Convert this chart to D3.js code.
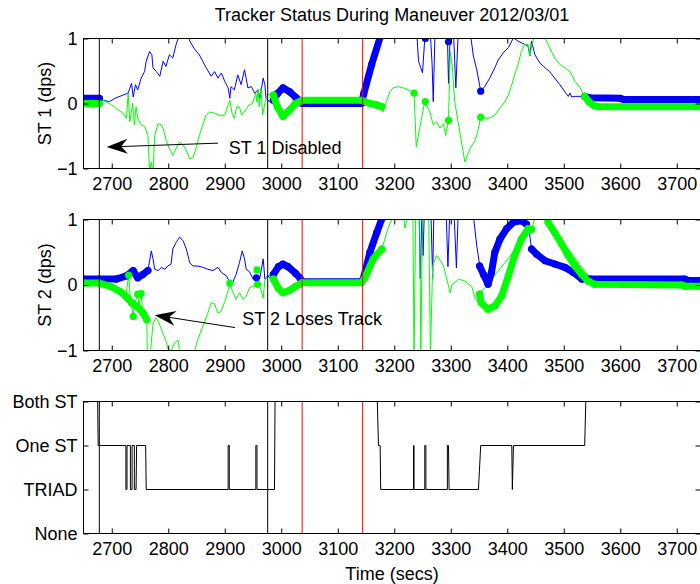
<!DOCTYPE html>
<html>
<head>
<meta charset="utf-8">
<script src="https://cdn.jsdelivr.net/npm/d3@7"></script>
<style>
  body { margin: 0; background: #fff; }
  text { font-family: "Liberation Sans", Arial, sans-serif; fill: #000; }
</style>
</head>
<body>
<svg id="chart" width="700" height="584"></svg>
<script>
// ---- data (time in secs, rates in dps) ----
const timeTicks = [2700, 2800, 2900, 3000, 3100, 3200, 3300, 3400, 3500, 3600, 3700];
const rateTicks = [-1, 0, 1];
const modeLabels = ["None", "TRIAD", "One ST", "Both ST"];

const blackMarks = [2678, 2976];
const redMarks = [3037, 3144];

// ST 1 thin traces
const st1Blue = [[2650,0.08],[2684,0.05],[2696,0.03],[2707,0.085],[2720,0.13],[2729,0.16],[2735,0.31],[2738,0.1],[2742,0.29],[2746,0.21],[2752,0.39],[2758,0.49],[2761,0.65],[2767,0.8],[2771,0.75],[2773,0.55],[2779,0.49],[2785,0.42],[2791,0.65],[2796,0.57],[2802,0.75],[2808,0.7],[2814,0.91],[2820,1.06],[2835,1.06],[2838,0.96],[2847,0.83],[2855,0.75],[2861,0.65],[2867,0.55],[2876,0.42],[2882,0.49],[2888,0.39],[2894,0.47],[2900,0.34],[2906,0.24],[2909,0.08],[2911,0.26],[2917,0.21],[2923,0.44],[2929,0.29],[2935,0.52],[2941,0.24],[2947,0.26],[2953,0.16],[2959,0.21],[2962,0.08],[2968,0.39],[2971,0.29],[2973,0.08],[2979,0.03],[2986,0.05],[3003,0.24],[3037,0],[3144,0],[3175,1.06],[3240,1.06],[3243,0.65],[3250,0.47],[3254,1.0],[3264,1.06],[3267,0.6],[3269,0.03],[3272,1.06],[3294,1.06],[3296,0.31],[3299,1.06],[3305,1.06],[3309,0.24],[3313,1.06],[3335,1.06],[3340,0.73],[3346,0.52],[3353,0.19],[3360,0.26],[3369,0.39],[3378,0.55],[3384,0.67],[3393,0.78],[3402,0.86],[3411,1.01],[3419,0.96],[3431,0.91],[3437,0.88],[3440,0.73],[3443,0.96],[3449,0.75],[3458,0.62],[3467,0.55],[3475,0.49],[3484,0.39],[3493,0.29],[3502,0.18],[3508,0.11],[3511,0.16],[3514,0.1],[3520,0.11],[3537,0.11],[3742,0.06]];
const st1Green = [[2650,0],[2684,0.05],[2696,0],[2707,-0.07],[2720,-0.15],[2726,-0.23],[2729,0.16],[2732,-0.28],[2737,0],[2740,-0.33],[2743,-0.05],[2746,-0.23],[2752,-0.33],[2758,-0.35],[2764,-0.49],[2767,-1.06],[2770,-0.9],[2773,-1.06],[2776,-0.49],[2782,-0.31],[2788,-0.33],[2791,-0.38],[2797,-0.59],[2802,-0.69],[2808,-0.8],[2814,-0.69],[2820,-0.59],[2826,-0.64],[2832,-0.72],[2838,-0.85],[2844,-0.83],[2850,-0.67],[2855,-0.49],[2861,-0.33],[2867,-0.18],[2873,-0.13],[2882,-0.15],[2890,-0.18],[2900,-0.18],[2906,-0.02],[2909,0.05],[2913,-0.15],[2917,-0.23],[2921,-0.05],[2926,-0.05],[2930,-0.18],[2937,-0.1],[2943,-0.02],[2949,0],[2955,0.16],[2957,0.02],[2959,0.22],[2961,-0.05],[2964,0.24],[2967,-0.18],[2972,0.05],[2976,0.13],[2982,0.16],[2986,0.13],[3003,-0.2],[3037,0.05],[3144,0.05],[3178,-0.05],[3180,-0.13],[3186,0.03],[3192,0.18],[3198,0.24],[3207,0.26],[3216,0.24],[3225,0.21],[3235,0.16],[3239,-0.67],[3245,-0.38],[3254,0.03],[3263,-0.13],[3269,-0.33],[3275,-0.28],[3281,-0.38],[3287,-0.31],[3291,-0.49],[3296,-0.26],[3299,0.8],[3303,0.55],[3307,0.03],[3316,-0.44],[3325,-0.9],[3334,-0.69],[3343,-0.57],[3347,-0.46],[3353,-0.21],[3366,-0.23],[3378,-0.18],[3387,-0.07],[3396,0.03],[3402,0.13],[3408,0.29],[3413,0.44],[3419,0.6],[3425,0.8],[3431,0.91],[3437,0.91],[3440,0.73],[3443,0.88],[3449,1.06],[3462,1.06],[3467,1.0],[3475,0.86],[3484,0.7],[3493,0.6],[3502,0.55],[3511,0.49],[3520,0.34],[3529,0.24],[3537,0.11],[3560,-0.05],[3742,-0.05]];

// ST 1 tracked samples (fat markers); one-point runs are lone samples
const st1BlueDots = [
  [[2650,0.08],[2678,0.08]],
  [[2986,0.05],[2993,0.15],[3003,0.24],[3015,0.18],[3025,0.1],[3033,0.04],[3037,0],[3142,0],[3146,0.15],[3160,0.6],[3175,1.02]],
  [[3255,1.0]], [[3296,0.95]], [[3353,0.19]],
  [[3537,0.11],[3545,0.09],[3600,0.08],[3606,0.06],[3742,0.06]]
];
const st1GreenDots = [
  [[2650,0],[2678,0]],
  [[2986,0.13],[2993,-0.05],[3003,-0.2],[3015,-0.1],[3025,0],[3033,0.03],[3037,0.05],[3142,0.05],[3157,0],[3169,-0.02],[3178,-0.05]],
  [[3235,0.16]], [[3255,0.03]], [[3296,-0.26]], [[3353,-0.21]],
  [[3537,0.11],[3545,0.02],[3553,-0.03],[3560,-0.05],[3742,-0.05]]
];

// ST 2 thin traces
const st2Blue = [[2650,0.09],[2708,0.09],[2726,0.14],[2738,0.22],[2746,0.11],[2755,0.16],[2764,0.22],[2770,0.52],[2773,0.4],[2776,0.24],[2782,0.22],[2788,0.27],[2794,0.24],[2799,0.29],[2805,0.32],[2808,0.55],[2814,0.65],[2820,0.73],[2826,0.68],[2832,0.55],[2838,0.34],[2844,0.29],[2852,0.29],[2861,0.27],[2870,0.24],[2879,0.22],[2888,0.27],[2894,0.19],[2903,0.14],[2909,0.04],[2914,0.04],[2920,0.16],[2926,0.34],[2931,0.52],[2935,0.4],[2938,0.24],[2944,0.2],[2950,0.09],[2956,0.11],[2962,0.1],[2968,0.4],[2971,0.09],[2976,0.14],[2982,0.09],[2986,0.16],[3003,0.32],[3033,0.11],[3037,0.05],[3144,0.05],[3178,1.06],[3244,1.06],[3246,0.1],[3249,1.06],[3251,0.45],[3253,1.06],[3265,1.06],[3268,0.1],[3270,1.06],[3292,1.06],[3295,0.28],[3298,1.06],[3306,1.06],[3310,0.26],[3313,1.06],[3340,1.06],[3346,0.6],[3351,0.31],[3358,0.16],[3366,0.01],[3378,0.5],[3411,0.96],[3434,0.93],[3440,0.75],[3443,0.55],[3467,0.37],[3532,0.09],[3742,0.07]];
const st2Green = [[2650,0.03],[2678,0.03],[2700,-0.03],[2715,-0.1],[2725,-0.17],[2730,0.15],[2733,-0.2],[2738,-0.48],[2740,-0.3],[2746,-0.14],[2748,-0.33],[2752,-0.13],[2755,-0.42],[2762,-0.53],[2763,-1.06],[2768,-1.06],[2773,-0.6],[2778,-0.5],[2782,-0.55],[2788,-0.68],[2797,-0.88],[2802,-1.06],[2811,-0.89],[2817,-0.84],[2820,-1.0],[2826,-1.06],[2845,-1.06],[2852,-0.84],[2861,-0.63],[2870,-0.43],[2876,-0.27],[2882,-0.29],[2888,-0.43],[2894,-0.4],[2900,-0.25],[2906,-0.09],[2909,0.03],[2914,-0.1],[2920,-0.22],[2926,-0.12],[2933,-0.22],[2938,-0.17],[2944,-0.04],[2950,-0.02],[2956,0.01],[2962,-0.02],[2968,-0.2],[2971,0.07],[2976,0.14],[2982,0.15],[2986,0.09],[3003,-0.12],[3033,0.01],[3037,0.035],[3142,0.035],[3178,0.55],[3189,0.86],[3198,1.06],[3216,1.06],[3219,0.87],[3224,1.06],[3233,1.06],[3235,-1.06],[3238,1.06],[3245,1.06],[3247,-1.06],[3250,1.06],[3261,1.06],[3264,-1.06],[3268,0.3],[3275,0.45],[3287,0.3],[3299,-0.12],[3302,0.0],[3314,0.09],[3325,0.06],[3337,-0.02],[3343,-0.2],[3349,-0.28],[3351,-0.14],[3443,0.85],[3450,1.06],[3468,1.06],[3472,0.96],[3555,0.01],[3742,-0.02]];

// ST 2 tracked samples
const st2BlueDots = [
  [[2650,0.09],[2678,0.09],[2708,0.09],[2726,0.14],[2738,0.22],[2746,0.11],[2755,0.16],[2764,0.22]],
  [[2956,0.11]],
  [[2986,0.16],[2995,0.28],[3003,0.32],[3012,0.28],[3025,0.18],[3033,0.11],[3037,0.05],[3142,0.05],[3145,0.09],[3157,0.5],[3169,0.8],[3178,1.01]],
  [[3351,0.29],[3358,0.16],[3366,0.01],[3372,0.19],[3378,0.5],[3387,0.7],[3399,0.86],[3411,0.96],[3425,0.98],[3434,0.93]],
  [[3443,0.55],[3452,0.47],[3467,0.37],[3484,0.32],[3502,0.27],[3517,0.19],[3532,0.09],[3546,0.09],[3714,0.09],[3720,0.07],[3742,0.07]]
];
const st2GreenDots = [
  [[2650,0.03],[2678,0.03],[2700,-0.03],[2715,-0.1],[2725,-0.17],[2735,-0.27],[2745,-0.33],[2755,-0.42],[2762,-0.53]],
  [[2730,0.15]], [[2738,-0.48]], [[2746,-0.14]], [[2752,-0.13]],
  [[2909,0.03]], [[2957,0.23]], [[2958,0.01]],
  [[2986,0.09],[2995,-0.05],[3003,-0.12],[3015,-0.08],[3025,-0.02],[3033,0.01],[3037,0.035],[3142,0.035],[3148,0.11],[3163,0.4],[3178,0.55]],
  [[3351,-0.14],[3354,-0.27],[3366,-0.37],[3378,-0.32],[3390,-0.17],[3402,0.14],[3413,0.45],[3425,0.7],[3437,0.86],[3443,0.85]],
  [[3472,0.96],[3484,0.8],[3496,0.63],[3508,0.45],[3520,0.29],[3532,0.16],[3543,0.06],[3555,0.01],[3709,0],[3715,-0.02],[3742,-0.02]]
];

// attitude source: 0 None, 1 TRIAD, 2 One ST, 3 Both ST
const modeSteps = [[2650,3],[2675,3],[2676,2],[2725,2],[2725,1],[2727,1],[2727,2],[2733,2],[2733,1],[2736,1],[2736,2],[2740,2],[2740,1],[2743,1],[2744,2],[2760,2],[2761,1],[2906,1],[2906,2],[2908,2],[2908,1],[2955,1],[2955,2],[2957,2],[2957,1],[2988,1],[2989,3],[3170,3],[3172,2],[3175,2],[3176,1],[3234,1],[3234,2],[3235,2],[3235,1],[3254,1],[3254,2],[3256,2],[3256,1],[3294,1],[3294,2],[3296,2],[3297,1],[3349,1],[3353,2],[3408,2],[3409,1],[3411,2],[3537,2],[3539,3],[3742,3]];

// ---- drawing ----
const svg = d3.select("#chart");
const x = d3.scaleLinear().domain([2650, 3742]).range([83.5, 700.5]);
const y1 = d3.scaleLinear().domain([-1, 1]).range([168.5, 38.5]);
const y2 = d3.scaleLinear().domain([-1, 1]).range([350.5, 219.5]);
const y3 = d3.scaleLinear().domain([0, 3]).range([533.5, 401.5]);

const BLUE = "#0000ff", GREEN = "#00ff00";
const fontSize = 18;

function frame(y, id) {
  const [y0, yTop] = y.range();
  svg.append("clipPath").attr("id", id)
    .append("rect").attr("x", x.range()[0]).attr("y", yTop)
    .attr("width", x.range()[1] - x.range()[0]).attr("height", y0 - yTop);
  return svg.append("g").attr("clip-path", `url(#${id})`);
}

function axes(y, yTicks, yFormat) {
  const [y0, yTop] = y.range();
  const [xl, xr] = x.range();
  svg.append("g").attr("transform", `translate(0,${y0})`)
    .call(d3.axisBottom(x).tickValues(timeTicks).tickSizeInner(-5).tickSizeOuter(0).tickPadding(9).tickFormat(d3.format("d")));
  svg.append("g").attr("transform", `translate(0,${yTop})`)
    .call(d3.axisTop(x).tickValues(timeTicks).tickSizeInner(-5).tickSizeOuter(0).tickFormat(""));
  svg.append("g").attr("transform", `translate(${xl},0)`)
    .call(d3.axisLeft(y).tickValues(yTicks).tickSizeInner(-5).tickSizeOuter(0).tickPadding(6).tickFormat(yFormat));
  svg.append("g").attr("transform", `translate(${xr},0)`)
    .call(d3.axisRight(y).tickValues(yTicks).tickSizeInner(-5).tickSizeOuter(0).tickFormat(""));
  svg.selectAll(".domain").remove();
  svg.selectAll(".tick line").attr("stroke", "#000");
  svg.selectAll(".tick text").attr("font-size", fontSize).attr("font-family", null);
  svg.append("rect").attr("x", xl).attr("y", yTop).attr("width", xr - xl).attr("height", y0 - yTop)
    .attr("fill", "none").attr("stroke", "#000").attr("stroke-width", 1);
}

function vlines(g, y) {
  const [y0, yTop] = y.range();
  g.selectAll(null).data(blackMarks.map(t => ({ t, c: "#000" })).concat(redMarks.map(t => ({ t, c: "#ff0000" }))))
    .join("line")
    .attr("x1", d => x(d.t)).attr("x2", d => x(d.t))
    .attr("y1", yTop).attr("y2", y0)
    .attr("stroke", d => d.c).attr("stroke-width", 1);
}

function ratePanel(y, id, blueLine, greenLine, blueDots, greenDots) {
  const g = frame(y, id);
  const line = d3.line().x(d => x(d[0])).y(d => y(d[1]));
  g.append("path").attr("d", line(blueLine)).attr("fill", "none").attr("stroke", BLUE).attr("stroke-width", 1);
  g.append("path").attr("d", line(greenLine)).attr("fill", "none").attr("stroke", GREEN).attr("stroke-width", 1);
  [[blueDots, BLUE], [greenDots, GREEN]].forEach(([runs, c]) => {
    g.selectAll(null).data(runs.filter(r => r.length > 1)).join("path")
      .attr("d", line).attr("fill", "none").attr("stroke", c)
      .attr("stroke-width", 7).attr("stroke-linecap", "round").attr("stroke-linejoin", "round");
    g.selectAll(null).data(runs.flat()).join("circle")
      .attr("cx", d => x(d[0])).attr("cy", d => y(d[1])).attr("r", 3.6).attr("fill", c);
  });
  vlines(g, y);
  axes(y, rateTicks, d3.format("d"));
}

ratePanel(y1, "clip1", st1Blue, st1Green, st1BlueDots, st1GreenDots);
ratePanel(y2, "clip2", st2Blue, st2Green, st2BlueDots, st2GreenDots);

// mode panel
const g3 = frame(y3, "clip3");
g3.append("path")
  .attr("d", d3.line().x(d => x(d[0])).y(d => y3(d[1]))(modeSteps))
  .attr("fill", "none").attr("stroke", "#000").attr("stroke-width", 1);
vlines(g3, y3);
axes(y3, [0, 1, 2, 3], i => modeLabels[i]);

// titles and labels
svg.append("text").attr("x", 392).attr("y", 21).attr("text-anchor", "middle")
  .attr("font-size", fontSize).text("Tracker Status During Maneuver 2012/03/01");
svg.append("text").attr("x", 392).attr("y", 580).attr("text-anchor", "middle")
  .attr("font-size", fontSize).text("Time (secs)");
[[y1, "ST 1 (dps)"], [y2, "ST 2 (dps)"]].forEach(([y, s]) => {
  const cy = (y.range()[0] + y.range()[1]) / 2;
  svg.append("text").attr("transform", `translate(51,${cy}) rotate(-90)`)
    .attr("text-anchor", "middle").attr("font-size", fontSize).text(s);
});

// annotations (positions in data units)
const notes = [
  { y: y1, text: "ST 1 Disabled", tx: 2907, ty: -0.775, from: [2888, -0.61], to: [2691, -0.67] },
  { y: y2, text: "ST 2 Loses Track", tx: 2931, ty: -0.615, from: [2918, -0.65], to: [2776, -0.46] }
];
notes.forEach(n => {
  const ax = x(n.from[0]), ay = n.y(n.from[1]);
  const bx = x(n.to[0]), by = n.y(n.to[1]);
  const ang = Math.atan2(ay - by, ax - bx);
  svg.append("line").attr("x1", ax).attr("y1", ay)
    .attr("x2", bx + 8 * Math.cos(ang)).attr("y2", by + 8 * Math.sin(ang))
    .attr("stroke", "#000").attr("stroke-width", 1);
  svg.append("path").attr("d", "M0,0L21,-7.5L14.5,0L21,7.5Z")
    .attr("transform", `translate(${bx},${by}) rotate(${ang * 180 / Math.PI})`).attr("fill", "#000");
  svg.append("text").attr("x", x(n.tx)).attr("y", n.y(n.ty)).attr("font-size", 18).text(n.text);
});
</script>
</body>
</html>
